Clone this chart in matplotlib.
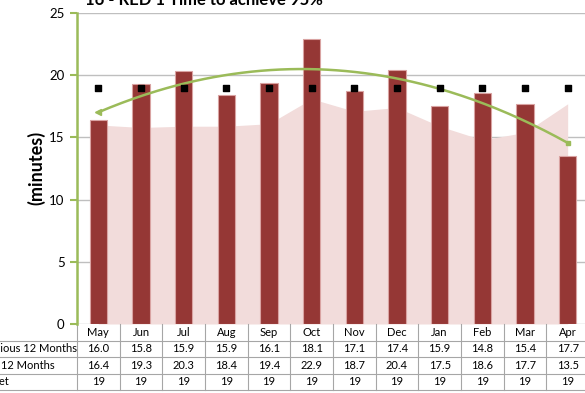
import matplotlib
matplotlib.use("Agg")
import matplotlib.pyplot as plt
import numpy as np

plt.rcParams['font.family'] = ['Lato', 'DejaVu Sans']

months = ["May", "Jun", "Jul", "Aug", "Sep", "Oct", "Nov", "Dec", "Jan", "Feb", "Mar", "Apr"]
previous_12 = [16.0, 15.8, 15.9, 15.9, 16.1, 18.1, 17.1, 17.4, 15.9, 14.8, 15.4, 17.7]
last_12 = [16.4, 19.3, 20.3, 18.4, 19.4, 22.9, 18.7, 20.4, 17.5, 18.6, 17.7, 13.5]
target = [19] * 12
row_labels = ["Previous 12 Months", "Last 12 Months", "Target"]
title = "16 - RED 1 Time to achieve 95%"
ylabel = "(minutes)"

W, H = 585, 393
fig = plt.figure(figsize=(W / 100, H / 100), dpi=100)
ax_left, ax_right, ax_top, ax_bot = 77, 589, 13, 324
ax = fig.add_axes([ax_left / W, (H - ax_bot) / H, (ax_right - ax_left) / W, (ax_bot - ax_top) / H])

x = np.arange(len(months))
green = "#9BBB59"

ax.fill_between(x, previous_12, 0, color="#F2DCDB", lw=0, zorder=1)
ax.bar(x, last_12, width=0.4, color="#953735", edgecolor="#D9A3A2", linewidth=0.8, zorder=2)
ax.scatter(x, target, marker="s", s=22, color="black", zorder=4)

coef = np.polyfit(x, last_12, 2)
xs = np.linspace(0, len(months) - 1, 200)
ys = np.polyval(coef, xs)
ax.plot(xs, ys, color=green, lw=1.8, zorder=3)
ax.plot([xs[0]], [ys[0]], marker="<", ms=4, color=green, zorder=3)
ax.plot([xs[-1]], [ys[-1]], marker="s", ms=3.5, color=green, zorder=3)

ax.set_xlim(-0.5, len(months) - 0.5)
ax.set_ylim(0, 25)
ax.set_yticks(range(0, 26, 5))
ax.yaxis.grid(True, color="#BFBFBF", lw=1)
ax.set_axisbelow(True)
ax.set_xticks([])
for s in ["top", "right", "bottom"]:
    ax.spines[s].set_visible(False)
ax.spines["left"].set_color(green)
ax.spines["left"].set_linewidth(1.8)
ax.tick_params(axis="y", colors=green, length=5, width=1.5, labelsize=9.5, labelcolor="black", pad=4)

fig.text(204 / W, (H - 5) / H, title, ha="center", va="baseline", fontsize=12, fontweight="bold")
fig.text(36 / W, (H - 168) / H, ylabel, ha="center", va="center", rotation=90, fontsize=13, fontweight="bold")

# data table
trans = ax.get_xaxis_transform()
ax_h = ax_bot - ax_top
row_h = 16.5
def ay(px):
    return -px / ax_h

table_bottom = 4 * row_h
for k in range(len(months) + 1):
    ax.plot([k - 0.5, k - 0.5], [0, ay(table_bottom)], transform=trans, color="#A6A6A6", lw=0.8, clip_on=False)
for r in range(1, 5):
    yfig = (H - (ax_bot + r * row_h)) / H
    fig.add_artist(plt.Line2D([0, 1], [yfig, yfig], color="#A6A6A6", lw=0.8))

rows = [previous_12, last_12, target]
for i, m in enumerate(months):
    ax.text(i, ay(row_h * 0.5), m, transform=trans, ha="center", va="center", fontsize=8, clip_on=False)
    for r, vals in enumerate(rows):
        v = vals[i]
        s = f"{v:.1f}" if r < 2 else f"{v:d}"
        ax.text(i, ay(row_h * (r + 1.5)), s, transform=trans, ha="center", va="center", fontsize=8, clip_on=False)
for r, lab in enumerate(row_labels):
    fig.text(-22 / W, (H - (ax_bot + row_h * (r + 1.5))) / H, lab, ha="left", va="center", fontsize=8)

fig.savefig("out.png", dpi=100)
